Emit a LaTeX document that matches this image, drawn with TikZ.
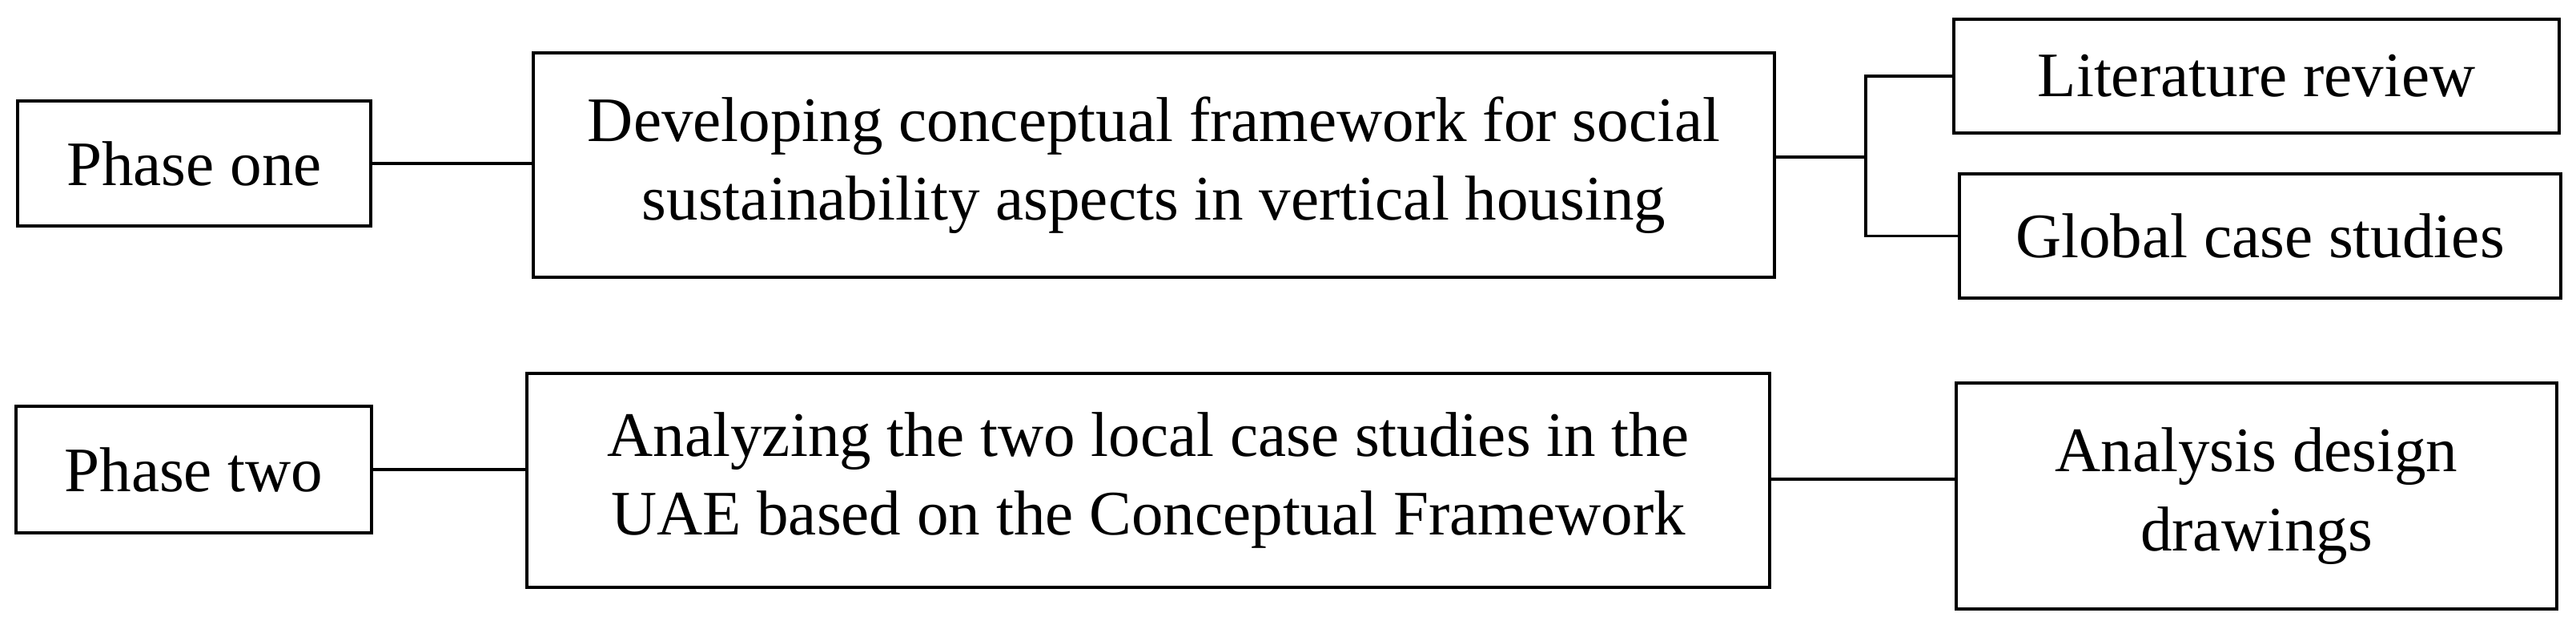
\documentclass[tikz,border=0pt]{standalone}
\usepackage{fontspec}
\setmainfont{Liberation Serif}
\usetikzlibrary{positioning}

\begin{document}
\begin{tikzpicture}[
    every node/.style={font=\fontsize{22.5}{28}\selectfont, align=center},
    box/.style={draw=black, line width=1.1pt, inner sep=0pt},
    link/.style={line width=1pt}
]
   \useasboundingbox (0,0) rectangle (32.17,-7.75);

   % Phases
   \node[box, minimum width=4.41cm, minimum height=1.56cm] (ph1) at (2.425,-2.04) {Phase one};
   \node[box, minimum width=4.44cm, minimum height=1.58cm] (ph2) at (2.42,-5.86) {Phase two};

   % Main tasks
   \node[box, minimum width=15.5cm, minimum height=2.8cm] (dev) at (14.41,-2.06)
        {Developing conceptual framework for social\\sustainability aspects in vertical housing};
   \node[box, minimum width=15.52cm, minimum height=2.67cm] (ana) at (14.34,-5.995)
        {Analyzing the two local case studies in the\\UAE based on the Conceptual Framework};

   % Methods
   \node[box, minimum width=7.56cm, minimum height=1.42cm] (lit) at (28.18,-0.95) {Literature review};
   \node[box, minimum width=7.51cm, minimum height=1.55cm] (glob) at (28.225,-2.945) {Global case studies};
   \node[box, minimum width=7.5cm, minimum height=2.82cm] (des) at (28.18,-6.19) {Analysis design\\drawings};

   \coordinate (split) at (23.3,-1.96);

   % Connectors
   \draw[link] (ph1.east) -- (ph1.east -| dev.west);
   \draw[link] (ph2.east) -- (ph2.east -| ana.west);
   \draw[link] (dev.east |- split) -- (split);
   \draw[link] (lit.west) -| (split) |- (glob.west);
   \draw[link] (ana.east |- 0,-5.98) -- (des.west |- 0,-5.98);
\end{tikzpicture}
\end{document}
